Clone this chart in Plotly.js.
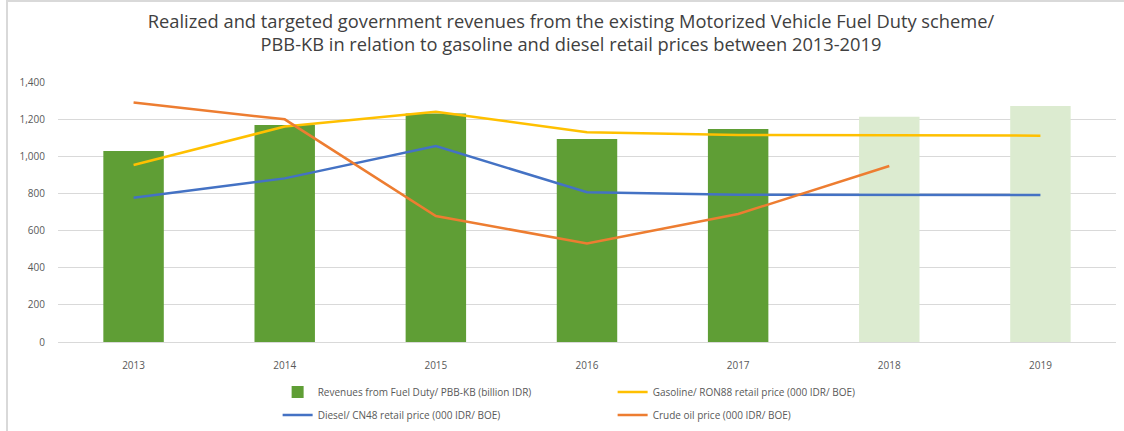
<!DOCTYPE html>
<html>
<head>
<meta charset="utf-8">
<script src="https://cdn.plot.ly/plotly-3.0.1.min.js"></script>
<style>
  html, body { margin: 0; padding: 0; background: #fff; }
  #wrap { position: relative; width: 1124px; height: 431px; overflow: hidden; }
  #chart { position: absolute; left: 0; top: 0; width: 1124px; height: 431px; }
  #bl { position: absolute; left: 6px; top: 0; width: 2px; height: 431px; background: #d9d9d9; }
  #bt { position: absolute; left: 6px; top: 0; width: 1118px; height: 2px; background: #d9d9d9; }
</style>
</head>
<body>
<div id="wrap">
  <div id="chart"></div>
  <div id="bl"></div>
  <div id="bt"></div>
</div>
<script>
// ---- data ----
const years = ['2013', '2014', '2015', '2016', '2017', '2018', '2019'];
const revenues = [1028, 1168, 1231, 1093, 1147, 1213, 1271];
const revenueStatus = ['realized', 'realized', 'realized', 'realized', 'realized', 'target', 'target'];
const gasoline = [953, 1160, 1240, 1129, 1115, 1111, 1111];
const diesel = [777, 881, 1055, 806, 793, 791, 791];
const crude = [1289, 1199, 678, 531, 689, 948, null];
const yTicks = [0, 200, 400, 600, 800, 1000, 1200, 1400];

const names = {
  rev: 'Revenues from Fuel Duty/ PBB-KB (billion IDR)',
  gas: 'Gasoline/ RON88 retail price (000 IDR/ BOE)',
  die: 'Diesel/ CN48 retail price (000 IDR/ BOE)',
  cru: 'Crude oil price (000 IDR/ BOE)'
};

// ---- styles ----
const FONT = 'Open Sans, Calibri, Carlito, sans-serif';
const statusColor = { realized: '#5f9e35', target: '#dcebd0' };

const traces = [
  {
    type: 'bar', x: years, y: revenues, name: names.rev,
    marker: { color: revenueStatus.map(s => statusColor[s]) },
    legend: 'legend', hoverinfo: 'x+y'
  },
  {
    type: 'scatter', mode: 'lines', x: years, y: gasoline, name: names.gas,
    line: { color: '#ffc000', width: 2.5 }, legend: 'legend'
  },
  {
    type: 'scatter', mode: 'lines', x: years, y: diesel, name: names.die,
    line: { color: '#4472c4', width: 2.5 }, legend: 'legend2'
  },
  {
    type: 'scatter', mode: 'lines', x: years, y: crude, name: names.cru,
    line: { color: '#ed7d31', width: 2.5 }, legend: 'legend2', connectgaps: false
  }
];

const legendBase = {
  orientation: 'h', xanchor: 'left', yanchor: 'top',
  xref: 'container', yref: 'container',
  font: { family: FONT, size: 10, color: '#595959' },
  entrywidth: 290, entrywidthmode: 'pixels',
  traceorder: 'normal', bgcolor: 'rgba(0,0,0,0)',
  itemwidth: 30
};

const layout = {
  width: 1124, height: 431,
  margin: { l: 58, r: 8, t: 82, b: 89, autoexpand: false },
  paper_bgcolor: '#ffffff', plot_bgcolor: '#ffffff',
  font: { family: FONT, color: '#595959' },
  title: {
    text: 'Realized and targeted government revenues from the existing Motorized Vehicle Fuel Duty scheme/<br>PBB-KB in relation to gasoline and diesel retail prices between 2013-2019',
    font: { family: FONT, size: 18.3, color: '#404040' },
    x: 0.508, xanchor: 'center', y: 0.936, yanchor: 'top'
  },
  bargap: 0.6,
  showlegend: true,
  xaxis: {
    type: 'category',
    tickfont: { family: FONT, size: 10, color: '#595959' },
    ticks: 'outside', ticklen: 14, tickcolor: 'rgba(0,0,0,0)',
    showgrid: false, showline: false, zeroline: false, fixedrange: true
  },
  yaxis: {
    range: [0, 1400], tickvals: yTicks, tickformat: ',d',
    tickfont: { family: FONT, size: 10, color: '#595959' },
    ticks: 'outside', ticklen: 10, tickcolor: 'rgba(0,0,0,0)',
    showgrid: true, gridcolor: '#d9d9d9', gridwidth: 1,
    zeroline: true, zerolinecolor: '#d9d9d9', zerolinewidth: 1,
    showline: false, fixedrange: true
  },
  legend: Object.assign({}, legendBase, { x: 0.247, y: 0.124 }),
  legend2: Object.assign({}, legendBase, { x: 0.247, y: 0.071 })
};

Plotly.newPlot('chart', traces, layout, { displayModeBar: false, staticPlot: true });
</script>
</body>
</html>
